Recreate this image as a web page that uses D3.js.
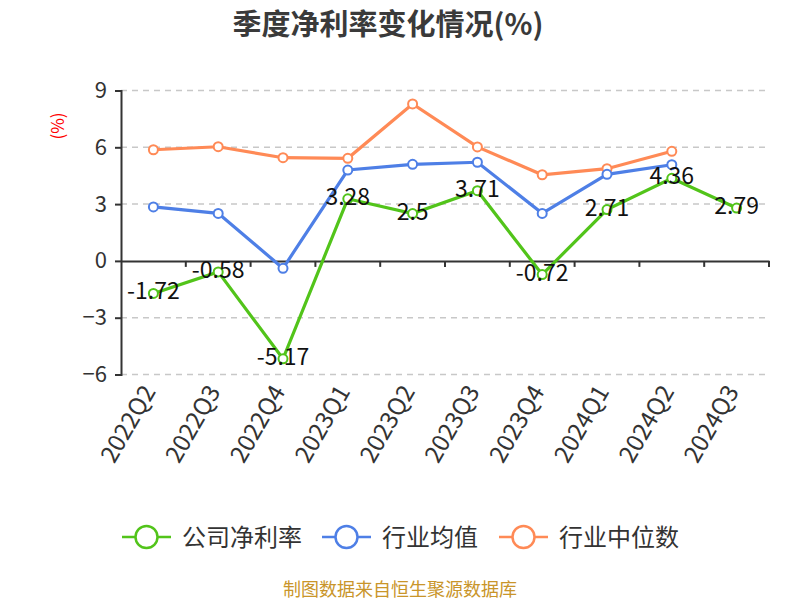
<!DOCTYPE html>
<html><head><meta charset="utf-8">
<script src="https://cdn.jsdelivr.net/npm/d3@7"></script>
<style>body{margin:0;background:#fff}svg{display:block}text{font-family:"Noto Sans CJK SC","Noto Sans",sans-serif}</style>
</head><body><svg id="c" width="800" height="600"></svg>
<script>
const categories = ["2022Q2","2022Q3","2022Q4","2023Q1","2023Q2","2023Q3","2023Q4","2024Q1","2024Q2","2024Q3"];
const companyRate = [-1.72,-0.58,-5.17,3.28,2.5,3.71,-0.72,2.71,4.36,2.79];
const industryAvg = [2.85,2.51,-0.39,4.80,5.10,5.21,2.51,4.57,5.08,null];
const industryMedian = [5.87,6.03,5.45,5.42,8.29,6.02,4.55,4.87,5.79,null];
const yTicks = [-6,-3,0,3,6,9];
const seriesNames = ["公司净利率","行业均值","行业中位数"];
const colors = ["#52c41a","#4e7fe6","#ff8a56"];

(function(){
const svg = d3.select("#c");
const numFont = '"Noto Sans","Noto Sans CJK SC",sans-serif';
const pl = 121, pr = 769, pt = 90.5, pb = 374.5;
const x = d3.scaleBand().domain(categories).range([pl, pr]);
const y = d3.scaleLinear().domain([-6, 9]).range([pb, pt]);

svg.append("text").attr("x", 388).attr("y", 35).attr("text-anchor","middle")
  .attr("font-size", 29).attr("font-weight","bold").attr("fill","#3a3a3a").text("季度净利率变化情况(%)");
svg.append("text").attr("transform","translate(64,126) rotate(-90)").attr("text-anchor","middle")
  .attr("font-size", 17).attr("fill","#ff0000").text("(%)");

svg.append("g").selectAll("line").data(yTicks.filter(d=>d!==0)).join("line")
  .attr("x1", pl).attr("x2", pr).attr("y1", d=>y(d)).attr("y2", d=>y(d))
  .attr("stroke","#c8c8c8").attr("stroke-width",1.5).attr("stroke-dasharray","6,5");

const ya = svg.append("g").attr("transform",`translate(${pl},0)`)
  .call(d3.axisLeft(y).tickValues(yTicks).tickSize(6).tickPadding(8));
ya.select(".domain").attr("stroke","#333").attr("stroke-width",2);
ya.selectAll(".tick line").attr("stroke","#333").attr("stroke-width",2);
ya.selectAll(".tick text").attr("font-size",22).attr("fill","#333").attr("font-family",numFont);

const xa = svg.append("g").attr("transform",`translate(0,${y(0)})`)
  .call(d3.axisBottom(x).tickSize(0).tickFormat(""));
xa.select(".domain").attr("stroke","#333").attr("stroke-width",2);
const bounds = categories.map(c=>x(c)+x.bandwidth());
xa.selectAll(".bt").data(bounds).join("line").attr("class","bt")
  .attr("x1",d=>d).attr("x2",d=>d).attr("y1",0).attr("y2",6).attr("stroke","#333").attr("stroke-width",2);

svg.append("g").selectAll("text").data(categories).join("text")
  .attr("transform", d=>`translate(${x(d)+x.bandwidth()/2+3},${pb+17}) rotate(-60)`)
  .attr("text-anchor","end").attr("font-size",24).attr("fill","#333")
  .attr("font-family",numFont).text(d=>d);

const cx = d => x(d)+x.bandwidth()/2;
const allSeries = [companyRate, industryAvg, industryMedian];
[2,1,0].forEach(si=>{
  const vals = allSeries[si];
  const pts = categories.map((c,i)=>({c, v: vals[i]})).filter(p=>p.v!=null);
  const line = d3.line().x(p=>cx(p.c)).y(p=>y(p.v));
  svg.append("path").attr("d", line(pts)).attr("fill","none").attr("stroke",colors[si]).attr("stroke-width",3.2);
  svg.append("g").selectAll("circle").data(pts).join("circle")
    .attr("cx",p=>cx(p.c)).attr("cy",p=>y(p.v)).attr("r",4.5)
    .attr("fill","#fff").attr("stroke",colors[si]).attr("stroke-width",2);
});
svg.append("g").selectAll("text").data(categories.map((c,i)=>({c,v:companyRate[i]}))).join("text")
  .attr("x",p=>cx(p.c)).attr("y",p=>y(p.v)+6).attr("text-anchor","middle")
  .attr("font-size",23).attr("fill","#111").attr("font-family",numFont)
  .text(p=>p.v);

const legendX = [122, 322, 499];
seriesNames.forEach((n,i)=>{
  const g = svg.append("g").attr("transform",`translate(${legendX[i]},537)`);
  g.append("line").attr("x1",0).attr("x2",49).attr("y1",0).attr("y2",0).attr("stroke",colors[i]).attr("stroke-width",2.5);
  g.append("circle").attr("cx",24.5).attr("cy",0).attr("r",11).attr("fill","#fff").attr("stroke",colors[i]).attr("stroke-width",2.5);
  g.append("text").attr("x",60).attr("y",8.5).attr("font-size",24).attr("fill","#333").text(n);
});

svg.append("text").attr("x",400).attr("y",596).attr("text-anchor","middle")
  .attr("font-size",18).attr("fill","#c9952a").text("制图数据来自恒生聚源数据库");
})();
</script></body></html>
